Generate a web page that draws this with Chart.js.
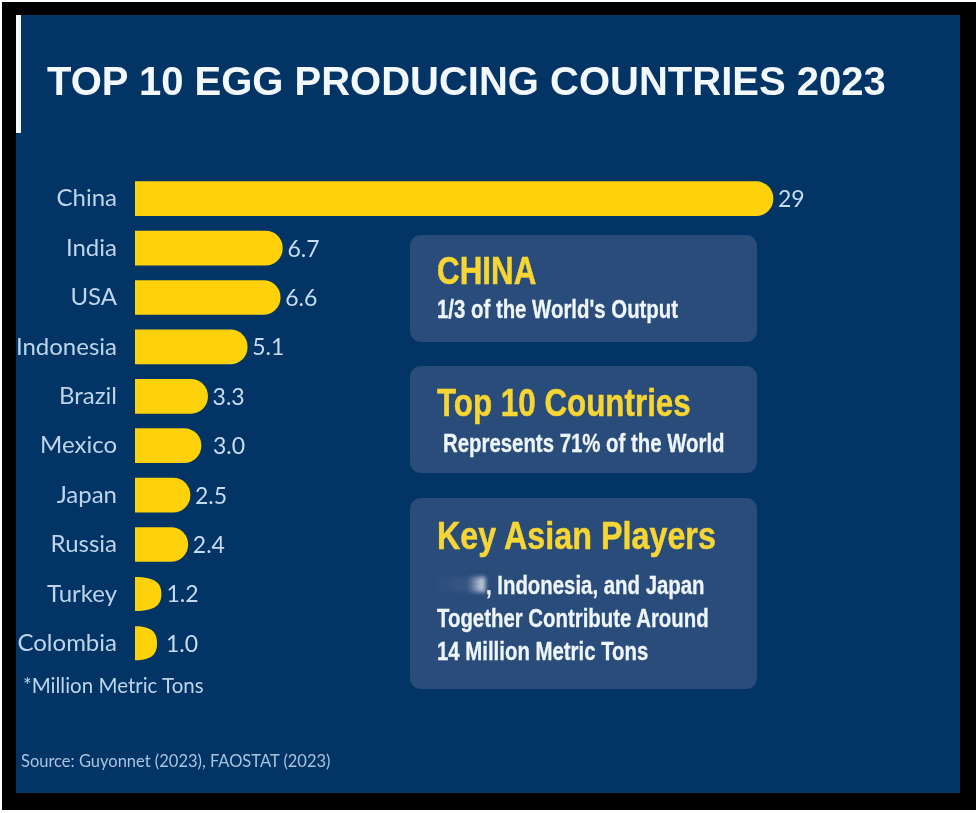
<!DOCTYPE html>
<html>
<head>
<meta charset="utf-8">
<title>Top 10 Egg Producing Countries 2023</title>
<script src="https://cdn.jsdelivr.net/npm/chart.js@4"></script>
<style>
  html, body { margin: 0; padding: 0; background: #fff; }
  #frame { position: absolute; left: 2px; top: 2px; width: 974px; height: 808px; background: #000; }
  #panel { position: absolute; left: 16px; top: 15px; width: 944px; height: 778px; background: #033466; overflow: hidden; }
  #panel canvas { position: absolute; left: 0; top: 0; }
  #accent { position: absolute; left: 0; top: 0; width: 5px; height: 118px; background: #f4f8fc; }
  .txt { position: absolute; white-space: nowrap; font-family: "Liberation Sans", sans-serif; }
  #title { left: 31px; top: 44px; font-size: 40px; font-weight: 700; color: #f3f8fc; }
  .box { position: absolute; left: 394px; width: 347px; background: #2a4c7b; border-radius: 11px; }
  .head { font-weight: 700; color: #f6d534; font-size: 38px; -webkit-text-stroke: 0.5px #f6d534; transform: scaleX(0.825); transform-origin: left center; }
  .body { font-weight: 700; color: #eef5fb; font-size: 25px; -webkit-text-stroke: 0.3px #eef5fb; transform: scaleX(0.815); transform-origin: left center; }
  #note { left: 7px; top: 658px; font-family: Lato, sans-serif; font-size: 20.5px; color: #bcd5ea; }
  #source { left: 5px; top: 736px; font-family: Lato, sans-serif; font-size: 16.5px; color: #a9c4de; }
  #smudge { position: absolute; left: 27px; top: 79px; width: 48px; height: 15px; background: linear-gradient(90deg, rgba(255,255,255,0.02), rgba(255,255,255,0.06) 65%, rgba(255,255,255,0.85)); filter: blur(2px); }
</style>
</head>
<body>
<div id="frame"></div>
<div id="panel">
  <canvas id="eggChart" width="944" height="778"></canvas>
  <div id="accent"></div>
  <div class="txt" id="title">TOP 10 EGG PRODUCING COUNTRIES 2023</div>

  <div class="box" style="top:220px;height:107px">
    <div class="txt head" style="left:27px;top:15px">CHINA</div>
    <div class="txt body" style="left:27px;top:60px">1/3 of the World's Output</div>
  </div>
  <div class="box" style="top:351px;height:107px">
    <div class="txt head" style="left:27px;top:16px">Top 10 Countries</div>
    <div class="txt body" style="left:33px;top:63px">Represents 71% of the World</div>
  </div>
  <div class="box" style="top:483px;height:191px">
    <div class="txt head" style="left:27px;top:17px;transform:scaleX(0.85)">Key Asian Players</div>
    <div id="smudge"></div>
    <div class="txt body" style="left:76px;top:73px">, Indonesia, and Japan</div>
    <div class="txt body" style="left:27px;top:106px">Together Contribute Around</div>
    <div class="txt body" style="left:27px;top:139px">14 Million Metric Tons</div>
  </div>

  <div class="txt" id="note">*Million Metric Tons</div>
  <div class="txt" id="source">Source: Guyonnet (2023), FAOSTAT (2023)</div>
</div>

<script>
  var countries = ['China', 'India', 'USA', 'Indonesia', 'Brazil', 'Mexico', 'Japan', 'Russia', 'Turkey', 'Colombia'];
  var production = [29, 6.7, 6.6, 5.1, 3.3, 3.0, 2.5, 2.4, 1.2, 1.0];
  var valueLabels = ['29', '6.7', '6.6', '5.1', '3.3', '3.0', '2.5', '2.4', '1.2', '1.0'];
  // the picture leaves a wider gap after these two labels
  var labelGaps = [5, 5, 5, 5, 5, 12, 5, 5, 5, 9];

  // chart.js caps the corner radius at half the bar length, so the shortest bars need a real D shape
  var drawBar = Chart.BarElement.prototype.draw;
  Chart.BarElement.prototype.draw = function (ctx) {
    var p = this.getProps(['x', 'y', 'base', 'height']);
    var len = p.x - p.base;
    var half = p.height / 2;
    if (len >= p.height) {
      drawBar.call(this, ctx);
      return;
    }
    ctx.save();
    ctx.fillStyle = this.options.backgroundColor;
    ctx.beginPath();
    ctx.moveTo(p.base, p.y - half);
    ctx.bezierCurveTo(p.base + len * 0.8, p.y - half, p.x, p.y - half * 0.6, p.x, p.y);
    ctx.bezierCurveTo(p.x, p.y + half * 0.6, p.base + len * 0.8, p.y + half, p.base, p.y + half);
    ctx.closePath();
    ctx.fill();
    ctx.restore();
  };

  var valueLabelPlugin = {
    id: 'valueLabels',
    afterDatasetsDraw: function (chart) {
      var ctx = chart.ctx;
      var bars = chart.getDatasetMeta(0).data;
      ctx.save();
      ctx.font = '23px Lato, sans-serif';
      ctx.fillStyle = '#c6dcef';
      ctx.textAlign = 'left';
      ctx.textBaseline = 'middle';
      bars.forEach(function (bar, i) {
        ctx.fillText(valueLabels[i], bar.x + labelGaps[i], bar.y + 1);
      });
      ctx.restore();
    }
  };

  new Chart(document.getElementById('eggChart'), {
    type: 'bar',
    data: {
      labels: countries,
      datasets: [{
        data: production,
        backgroundColor: '#fdd20a',
        borderSkipped: false,
        borderRadius: { topLeft: 0, bottomLeft: 0, topRight: 17, bottomRight: 17 },
        barThickness: 34
      }]
    },
    options: {
      indexAxis: 'y',
      responsive: false,
      animation: false,
      layout: { padding: { top: 159, bottom: 125, right: 0, left: 0 } },
      plugins: { legend: { display: false }, tooltip: { enabled: false } },
      scales: {
        x: {
          display: false,
          min: 0,
          max: 37.5
        },
        y: {
          afterFit: function (axis) { axis.width = 119; },
          grid: { display: false },
          border: { display: false },
          ticks: {
            color: '#bcd5ea',
            padding: 10,
            font: { family: 'Lato, sans-serif', size: 24 }
          }
        }
      }
    },
    plugins: [valueLabelPlugin]
  });
</script>
</body>
</html>
